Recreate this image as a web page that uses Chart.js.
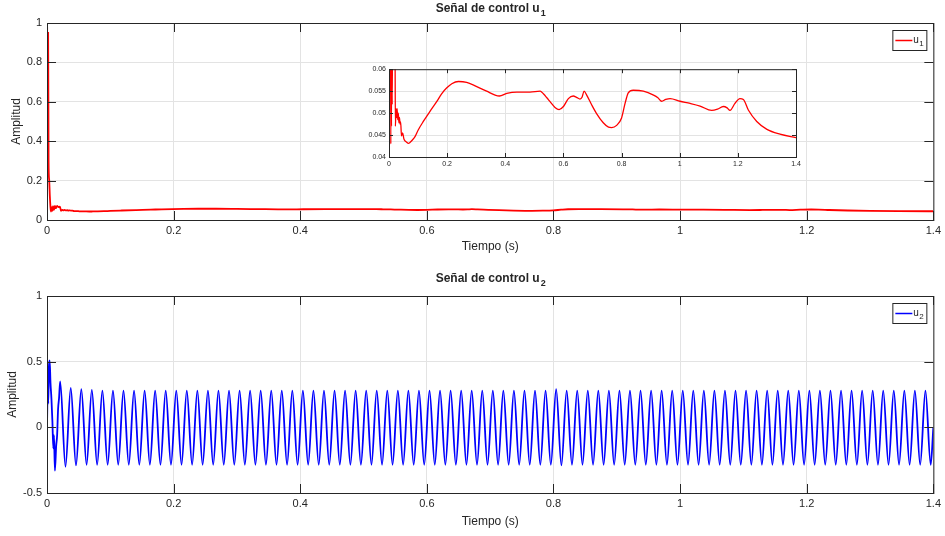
<!DOCTYPE html>
<html>
<head>
<meta charset="utf-8">
<script src="https://cdn.jsdelivr.net/npm/chart.js@4.4.0/dist/chart.umd.min.js"></script>
<style>
  body { margin: 0; background: #fff; }
  #wrap { position: relative; width: 945px; height: 536px; }
  canvas { position: absolute; }
</style>
</head>
<body>
<div id="wrap">
  <canvas id="top" width="945" height="268" style="left:0;top:0"></canvas>
  <canvas id="bottom" width="945" height="268" style="left:0;top:268px"></canvas>
  <canvas id="inset" width="450" height="112" style="left:355px;top:62px"></canvas>
</div>
<script>
// u1: control signal 1 (time in s)
const u1Time = [
  0, 0.0012, 0.0018, 0.0025, 0.0035, 0.0045, 0.0055, 0.0062, 0.0075, 0.0085,
  0.0095, 0.011, 0.0125, 0.014, 0.016, 0.018, 0.0205, 0.022, 0.024, 0.026,
  0.028, 0.030, 0.032, 0.034, 0.036, 0.038, 0.040, 0.043, 0.047, 0.051,
  0.055, 0.060, 0.067, 0.072, 0.078, 0.090, 0.100, 0.118, 0.141, 0.164,
  0.181, 0.198, 0.216, 0.239, 0.267, 0.300, 0.336, 0.365, 0.380, 0.405,
  0.440, 0.485, 0.520, 0.531, 0.543, 0.554, 0.571, 0.585, 0.600, 0.617,
  0.634, 0.645, 0.657, 0.664, 0.671, 0.680, 0.697, 0.714, 0.737, 0.755,
  0.766, 0.783, 0.800, 0.812, 0.823, 0.840, 0.875, 0.910, 0.925, 0.938,
  0.952, 0.967, 1.001, 1.036, 1.070, 1.110, 1.130, 1.150, 1.163, 1.173,
  1.190, 1.207, 1.219, 1.236, 1.265, 1.300, 1.345, 1.400
];
const u1Value = [
  1.05, 0.72, 0.95, 0.30, 0.20, 0.12, 0.065, 0.043, 0.065, 0.047,
  0.070, 0.052, 0.072, 0.060, 0.071, 0.066, 0.068, 0.047, 0.051, 0.049,
  0.051, 0.0485, 0.050, 0.0478, 0.049, 0.0475, 0.048, 0.0448, 0.0455, 0.0442,
  0.0437, 0.0434, 0.0431, 0.0433, 0.0437, 0.0447, 0.0461, 0.0481, 0.0504, 0.0526,
  0.0544, 0.0557, 0.0567, 0.0572, 0.0570, 0.0561, 0.0550, 0.0541, 0.0539, 0.0545,
  0.0548, 0.0548, 0.0550, 0.0544, 0.0535, 0.0526, 0.0513, 0.0508, 0.0515, 0.0533,
  0.0539, 0.0536, 0.0532, 0.0536, 0.0550, 0.0541, 0.0519, 0.0499, 0.0478, 0.0468,
  0.0467, 0.0472, 0.0489, 0.0522, 0.0546, 0.0552, 0.0550, 0.0541, 0.0535, 0.0527,
  0.0531, 0.0533, 0.0527, 0.0522, 0.0516, 0.0506, 0.0509, 0.0515, 0.0512, 0.0506,
  0.0522, 0.0533, 0.0531, 0.0507, 0.0481, 0.0463, 0.0452, 0.0444
];

// u2: control signal 2, peaks and troughs of the 60 Hz oscillation (time in ms)
const u2TimeMs = [
  0, 1.2, 2.0, 3.0, 4.2, 5.5, 7.0, 8.5, 10.0, 11.0, 12.5, 14.5, 16.0, 17.5, 19.0, 20.8, 29.2, 37.5, 45.8,
  54.2, 62.5, 70.8, 79.2, 87.5, 95.8,
  104.2, 112.5, 120.8, 129.2, 137.5, 145.8,
  154.2, 162.5, 170.8, 179.2, 187.5, 195.8,
  204.2, 212.5, 220.8, 229.2, 237.5, 245.8,
  254.2, 262.5, 270.8, 279.2, 287.5, 295.8,
  304.2, 312.5, 320.8, 329.2, 337.5, 345.8,
  354.2, 362.5, 370.8, 379.2, 387.5, 395.8,
  404.2, 412.5, 420.8, 429.2, 437.5, 445.8,
  454.2, 462.5, 470.8, 479.2, 487.5, 495.8,
  504.2, 512.5, 520.8, 529.2, 537.5, 545.8,
  554.2, 562.5, 570.8, 579.2, 587.5, 595.8,
  604.2, 612.5, 620.8, 629.2, 637.5, 645.8,
  654.2, 662.5, 670.8, 679.2, 687.5, 695.8,
  704.2, 712.5, 720.8, 729.2, 737.5, 745.8,
  754.2, 762.5, 770.8, 779.2, 787.5, 795.8,
  804.2, 812.5, 820.8, 829.2, 837.5, 845.8,
  854.2, 862.5, 870.8, 879.2, 887.5, 895.8,
  904.2, 912.5, 920.8, 929.2, 937.5, 945.8,
  954.2, 962.5, 970.8, 979.2, 987.5, 995.8,
  1004.2, 1012.5, 1020.8, 1029.2, 1037.5, 1045.8,
  1054.2, 1062.5, 1070.8, 1079.2, 1087.5, 1095.8,
  1104.2, 1112.5, 1120.8, 1129.2, 1137.5, 1145.8,
  1154.2, 1162.5, 1170.8, 1179.2, 1187.5, 1195.8,
  1204.2, 1212.5, 1220.8, 1229.2, 1237.5, 1245.8,
  1254.2, 1262.5, 1270.8, 1279.2, 1287.5, 1295.8,
  1304.2, 1312.5, 1320.8, 1329.2, 1337.5, 1345.8,
  1354.2, 1362.5, 1370.8, 1379.2, 1387.5, 1395.8,
  1400
];
const u2Value = [
  0, 0.32, 0.18, 0.46, 0.51, 0.34, 0.22, 0.05, -0.16, -0.06, -0.33, -0.14, -0.06, 0.14, 0.22, 0.35, -0.30, 0.30, -0.29,
  0.29, -0.285, 0.285, -0.285, 0.28, -0.285,
  0.28, -0.285, 0.28, -0.285, 0.28, -0.285,
  0.28, -0.285, 0.28, -0.285, 0.28, -0.285,
  0.28, -0.285, 0.28, -0.285, 0.28, -0.285,
  0.28, -0.285, 0.28, -0.285, 0.28, -0.285,
  0.28, -0.285, 0.28, -0.285, 0.28, -0.285,
  0.28, -0.285, 0.28, -0.285, 0.28, -0.285,
  0.28, -0.285, 0.28, -0.285, 0.28, -0.285,
  0.28, -0.285, 0.28, -0.285, 0.28, -0.285,
  0.28, -0.285, 0.28, -0.285, 0.28, -0.285,
  0.28, -0.285, 0.28, -0.285, 0.28, -0.285,
  0.28, -0.285, 0.28, -0.285, 0.28, -0.285,
  0.28, -0.285, 0.28, -0.285, 0.28, -0.285,
  0.28, -0.285, 0.28, -0.285, 0.28, -0.285,
  0.28, -0.285, 0.28, -0.285, 0.28, -0.285,
  0.29, -0.29, 0.28, -0.285, 0.28, -0.285,
  0.28, -0.285, 0.28, -0.285, 0.28, -0.285,
  0.28, -0.285, 0.28, -0.285, 0.28, -0.285,
  0.28, -0.285, 0.28, -0.285, 0.28, -0.285,
  0.28, -0.285, 0.28, -0.285, 0.28, -0.285,
  0.28, -0.285, 0.28, -0.285, 0.28, -0.285,
  0.28, -0.285, 0.28, -0.285, 0.28, -0.285,
  0.28, -0.285, 0.28, -0.285, 0.28, -0.285,
  0.28, -0.285, 0.28, -0.285, 0.28, -0.285,
  0.28, -0.285, 0.28, -0.285, 0.28, -0.285,
  0.28, -0.285, 0.28, -0.285, 0.28, -0.285,
  0.28, -0.285, 0.28, -0.285, 0.28, -0.285,
  0
];

const timeTicks = [0, 0.2, 0.4, 0.6, 0.8, 1, 1.2, 1.4];

const FONT = '"Liberation Sans", Arial, Helvetica, sans-serif';
const AXIS = '#262626';
const GRID = '#e3e3e3';
Chart.defaults.font.family = FONT;

const u1Points = u1Time.map((t, i) => ({ x: t, y: u1Value[i] }));
const u2Points = u2TimeMs.map((t, i) => ({ x: t / 1000, y: u2Value[i] }));

const fmt = v => String(Math.round(v * 10000) / 10000);

// MATLAB-like box, inside ticks, titles and legend
const frame = {
  id: 'frame',
  afterDraw(chart, args, o) {
    const { ctx, chartArea: a } = chart;
    const x = chart.scales.x, y = chart.scales.y;
    ctx.save();
    ctx.strokeStyle = AXIS;
    ctx.lineWidth = 1;
    ctx.beginPath();
    x.ticks.forEach(t => {
      const px = Math.round(x.getPixelForValue(t.value)) + 0.5;
      ctx.moveTo(px, a.bottom); ctx.lineTo(px, a.bottom - o.tick);
      ctx.moveTo(px, a.top); ctx.lineTo(px, a.top + o.tick);
    });
    y.ticks.forEach(t => {
      const py = Math.round(y.getPixelForValue(t.value)) + 0.5;
      ctx.moveTo(a.left, py); ctx.lineTo(a.left + o.tick, py);
      ctx.moveTo(a.right, py); ctx.lineTo(a.right - o.tick, py);
    });
    ctx.stroke();
    ctx.strokeRect(a.left + 0.5, a.top + 0.5, a.right - a.left, a.bottom - a.top);

    ctx.fillStyle = AXIS;
    if (o.title) {
      ctx.font = 'bold 12px ' + FONT;
      const w1 = ctx.measureText(o.title).width;
      ctx.font = 'bold 9px ' + FONT;
      const w2 = ctx.measureText(o.titleSub).width;
      const cx = (a.left + a.right) / 2;
      const sx = cx - (w1 + w2) / 2;
      ctx.textAlign = 'left';
      ctx.textBaseline = 'alphabetic';
      ctx.font = 'bold 12px ' + FONT;
      ctx.fillText(o.title, sx, o.titleY);
      ctx.font = 'bold 9px ' + FONT;
      ctx.fillText(o.titleSub, sx + w1 + 1, o.titleY + 4);
    }
    if (o.xLabel) {
      ctx.font = '12px ' + FONT;
      ctx.textAlign = 'center';
      ctx.textBaseline = 'middle';
      ctx.fillText(o.xLabel, (a.left + a.right) / 2, o.xLabelY);
    }
    if (o.yLabel) {
      ctx.save();
      ctx.translate(o.yLabelX, (a.top + a.bottom) / 2);
      ctx.rotate(-Math.PI / 2);
      ctx.font = '12px ' + FONT;
      ctx.textAlign = 'center';
      ctx.textBaseline = 'middle';
      ctx.fillText(o.yLabel, 0, 0);
      ctx.restore();
    }
    if (o.legend) {
      const bx = a.right - 41, by = a.top + 7;
      ctx.fillStyle = '#fff';
      ctx.fillRect(bx, by, 34, 20);
      ctx.strokeStyle = AXIS;
      ctx.strokeRect(bx + 0.5, by + 0.5, 34, 20);
      ctx.strokeStyle = o.legendColor;
      ctx.lineWidth = 1.5;
      ctx.beginPath();
      ctx.moveTo(bx + 3, by + 10.5);
      ctx.lineTo(bx + 20, by + 10.5);
      ctx.stroke();
      ctx.fillStyle = AXIS;
      ctx.textAlign = 'left';
      ctx.textBaseline = 'alphabetic';
      ctx.font = '10px ' + FONT;
      ctx.fillText(o.legend, bx + 21, by + 13);
      ctx.font = '8px ' + FONT;
      ctx.fillText(o.legendSub, bx + 27, by + 16);
    }
    ctx.restore();
  }
};

function makeChart(id, points, color, lineWidth, cfg) {
  return new Chart(document.getElementById(id), {
    type: 'line',
    data: {
      datasets: [{
        data: points,
        borderColor: color,
        borderWidth: lineWidth,
        pointRadius: 0,
        cubicInterpolationMode: 'monotone',
        fill: false
      }]
    },
    options: {
      responsive: false,
      animation: false,
      devicePixelRatio: 1,
      parsing: false,
      normalized: true,
      events: [],
      layout: { padding: cfg.padding },
      plugins: { legend: { display: false }, title: { display: false }, tooltip: { enabled: false }, frame: cfg.frame },
      scales: {
        x: {
          type: 'linear', min: 0, max: 1.4,
          afterBuildTicks: s => { s.ticks = timeTicks.map(v => ({ value: v })); },
          afterFit: s => { s.height = cfg.xHeight; },
          ticks: { font: { size: cfg.tickSize }, color: AXIS, padding: cfg.xPad, maxRotation: 0, autoSkip: false, callback: fmt },
          grid: { color: GRID, drawTicks: false },
          border: { display: false }
        },
        y: {
          min: cfg.yMin, max: cfg.yMax,
          afterBuildTicks: s => { s.ticks = cfg.yTicks.map(v => ({ value: v })); },
          afterFit: s => { s.width = cfg.yWidth; },
          ticks: { font: { size: cfg.tickSize }, color: AXIS, padding: cfg.yPad, autoSkip: false, callback: fmt },
          grid: { color: GRID, drawTicks: false },
          border: { display: false }
        }
      }
    },
    plugins: [frame]
  });
}

const u1Ticks = [0, 0.2, 0.4, 0.6, 0.8, 1];
const u2Ticks = [-0.5, 0, 0.5, 1];
const insetTicks = [0.04, 0.045, 0.05, 0.055, 0.06];

makeChart('top', u1Points, '#ff0000', 1.8, {
  padding: { top: 23, right: 10, left: 0, bottom: 0 },
  xHeight: 48, yWidth: 47, tickSize: 11, xPad: 4, yPad: 5,
  yMin: 0, yMax: 1, yTicks: u1Ticks,
  frame: { tick: 9, title: 'Señal de control u', titleSub: '1', titleY: 12,
           xLabel: 'Tiempo (s)', xLabelY: 247, yLabel: 'Amplitud', yLabelX: 17,
           legend: 'u', legendSub: '1', legendColor: '#ff0000' }
});

makeChart('bottom', u2Points, '#0000ff', 1.8, {
  padding: { top: 28, right: 10, left: 0, bottom: 0 },
  xHeight: 43, yWidth: 47, tickSize: 11, xPad: 4, yPad: 5,
  yMin: -0.5, yMax: 1, yTicks: u2Ticks,
  frame: { tick: 9, title: 'Señal de control u', titleSub: '2', titleY: 14,
           xLabel: 'Tiempo (s)', xLabelY: 254, yLabel: 'Amplitud', yLabelX: 13,
           legend: 'u', legendSub: '2', legendColor: '#0000ff' }
});

makeChart('inset', u1Points, '#ff0000', 1.3, {
  padding: { top: 5, right: 9, left: 0, bottom: 0 },
  xHeight: 17, yWidth: 34, tickSize: 7, xPad: 3, yPad: 3,
  yMin: 0.04, yMax: 0.06, yTicks: insetTicks,
  frame: { tick: 4 }
});
</script>
</body>
</html>
